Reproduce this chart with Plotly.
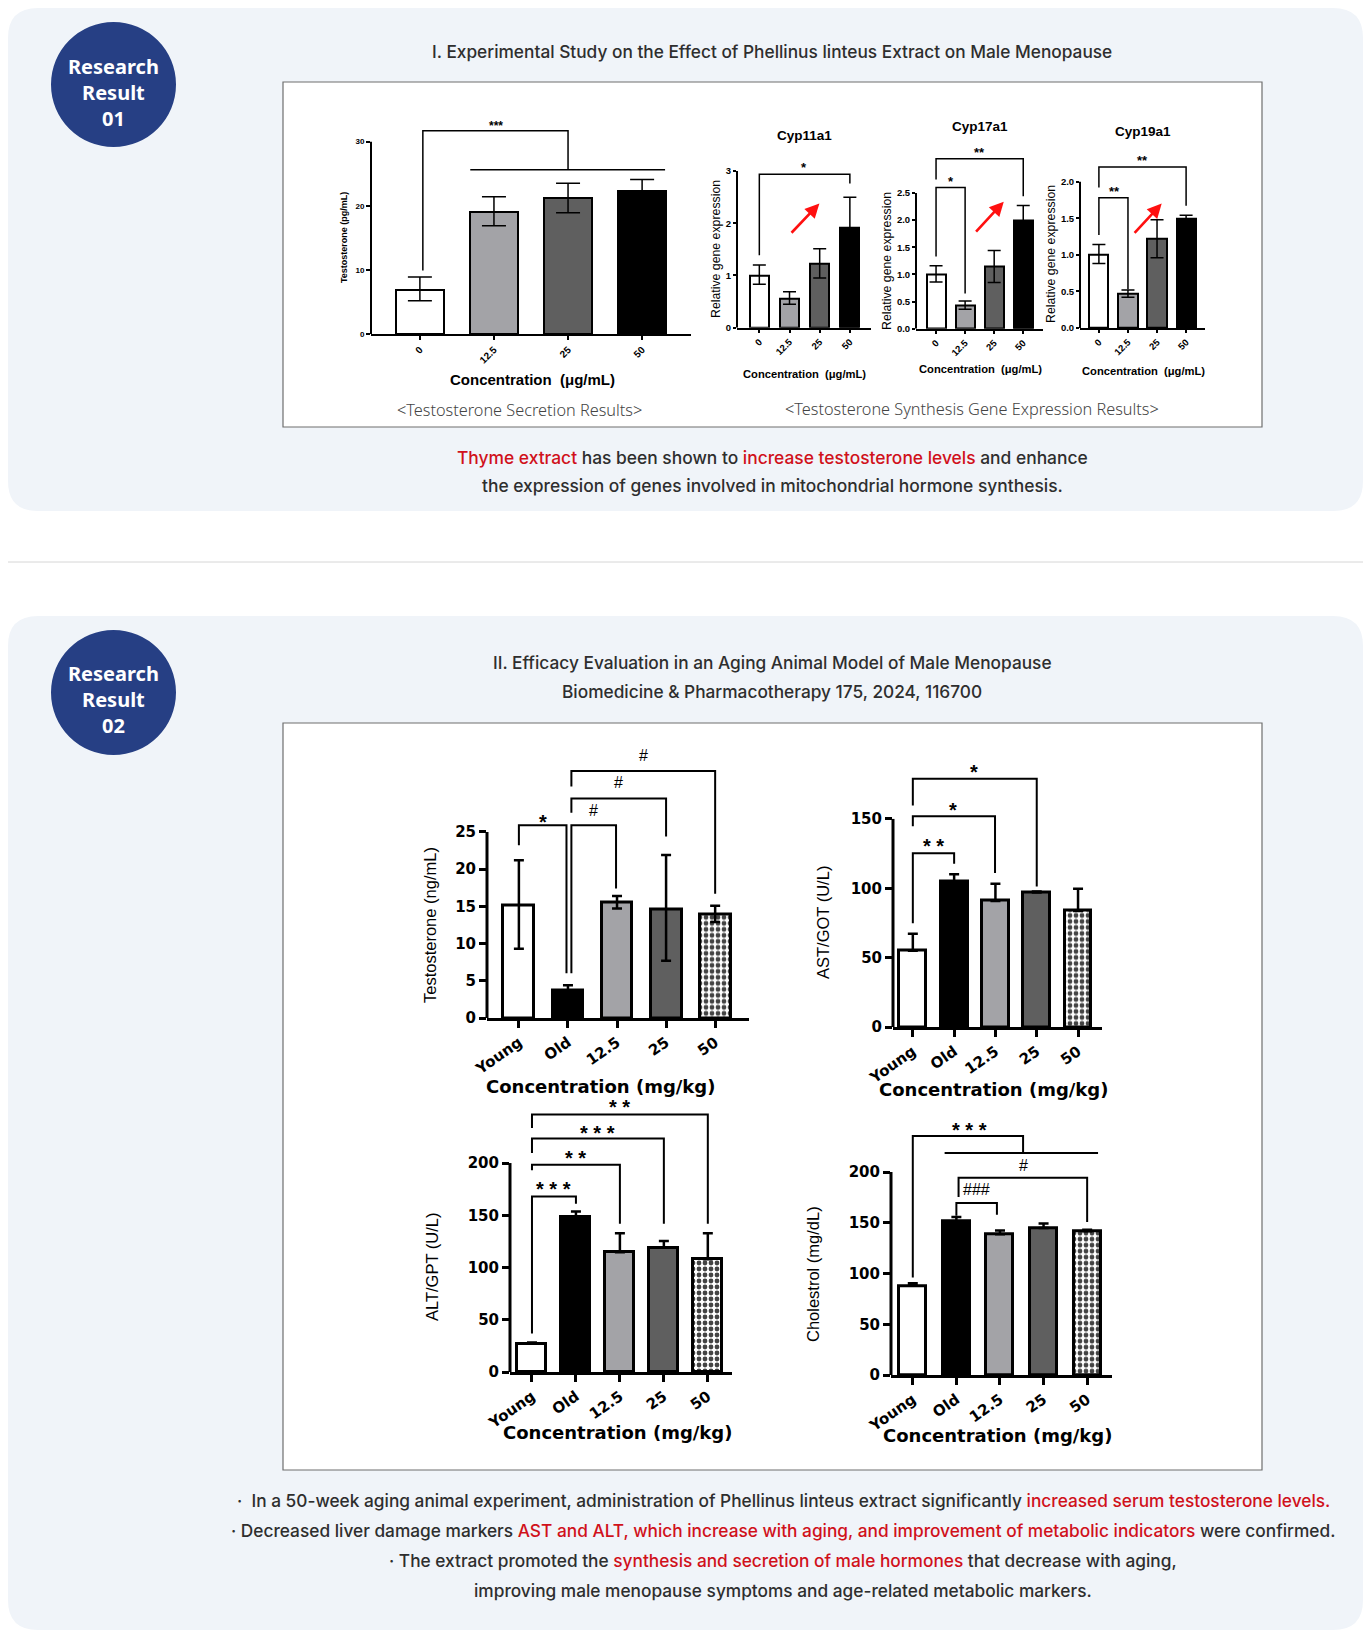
import plotly.graph_objects as go

# reference canvas 1371x1643; the html body adds an 8px margin, so the figure is
# drawn 16px smaller and all reference coordinates are offset by 8px.
W, H = 1371, 1643
OFF = 8
FW, FH = W - 2 * OFF, H - 2 * OFF

# ---------------- data ----------------
sec_cats = ["0", "12.5", "25", "50"]
sec_vals = [6.9, 19.0, 21.2, 22.3]
sec_err_up = [2.0, 2.4, 2.3, 1.8]
sec_err_dn = [1.7, 2.1, 2.3, 1.8]

gene_cats = ["0", "12.5", "25", "50"]
cyp11_vals = [1.0, 0.56, 1.23, 1.91]
cyp11_up = [0.20, 0.13, 0.28, 0.59]
cyp11_dn = [0.17, 0.11, 0.28, 0.59]
cyp17_vals = [1.0, 0.43, 1.15, 2.0]
cyp17_up = [0.16, 0.08, 0.29, 0.27]
cyp17_dn = [0.14, 0.07, 0.30, 0.27]
cyp19_vals = [1.0, 0.47, 1.22, 1.5]
cyp19_up = [0.14, 0.05, 0.26, 0.04]
cyp19_dn = [0.12, 0.05, 0.26, 0.04]

groups = ["Young", "Old", "12.5", "25", "50"]
testo_vals = [15.1, 3.7, 15.5, 14.65, 13.9]
testo_up = [6.1, 0.7, 0.9, 7.25, 1.2]
testo_dn = [5.8, 0.7, 0.8, 6.95, 1.0]
ast_vals = [55.0, 104.9, 90.9, 96.9, 83.7]
ast_up = [12.3, 5.3, 12.3, 0.8, 15.9]
alt_vals = [27.2, 148.2, 114.6, 119.0, 107.8]
alt_up = [1.0, 5.4, 18.2, 6.4, 25.0]
chol_vals = [87.9, 151.5, 138.7, 144.9, 141.6]
chol_up = [2.6, 4.2, 3.6, 4.3, 1.4]

# ---------------- helpers ----------------
def PX(x):
    return (x - OFF) / FW

def PY(y):
    return 1 - (y - OFF) / FH

fig = go.Figure()
shapes = []
annots = []
layout_axes = {}

RED = "#d0111b"
TXT = "#2e2e2e"
PANEL = "#f0f4f9"
NAVY = "#263f84"

def rrect(x0, y0, x1, y1, r, fill):
    pts = lambda x, y: f"{PX(x):.5f},{PY(y):.5f}"
    p = (f"M {pts(x0+r,y0)} L {pts(x1-r,y0)} Q {pts(x1,y0)} {pts(x1,y0+r)} "
         f"L {pts(x1,y1-r)} Q {pts(x1,y1)} {pts(x1-r,y1)} L {pts(x0+r,y1)} "
         f"Q {pts(x0,y1)} {pts(x0,y1-r)} L {pts(x0,y0+r)} Q {pts(x0,y0)} {pts(x0+r,y0)} Z")
    shapes.append(dict(type="path", path=p, xref="paper", yref="paper",
                       fillcolor=fill, line=dict(width=0), layer="below"))

def text(x, y, s, size, color=TXT, family="Inter", weight=400, angle=0, xanchor="center"):
    annots.append(dict(x=PX(x), y=PY(y), xref="paper", yref="paper", text=s,
                       showarrow=False, xanchor=xanchor, yanchor="middle", textangle=angle,
                       font=dict(size=size, color=color, family=family, weight=weight)))

def chart(n, cats, vals, up, dn, colors, px0, px1, py_top, py_bot, xrange, yrange,
          ytickvals, ymax_line, bw, lw, tickfont, ticklen, tickwidth, capw, errthick,
          pattern=None, ytickfont=None, tickangle=-45):
    xr = "x" if n == 1 else f"x{n}"
    yr = "y" if n == 1 else f"y{n}"
    xa = "xaxis" if n == 1 else f"xaxis{n}"
    ya = "yaxis" if n == 1 else f"yaxis{n}"
    idx = list(range(len(cats)))
    marker = dict(color=colors, line=dict(color="black", width=lw))
    if pattern is not None:
        marker["pattern"] = dict(shape=pattern, fgcolor="white", bgcolor="black",
                                 fgopacity=1, size=6, solidity=0.5)
    fig.add_trace(go.Bar(x=idx, y=vals, width=bw, xaxis=xr, yaxis=yr, marker=marker,
                         showlegend=False, hoverinfo="skip",
                         error_y=dict(type="data", symmetric=False, array=up, arrayminus=dn,
                                      color="black", thickness=errthick, width=capw)))
    layout_axes[xa] = dict(domain=[PX(px0), PX(px1)], range=xrange, anchor=yr,
                           showline=True, linecolor="black", linewidth=lw,
                           ticks="outside", tickvals=idx, ticktext=cats, tickangle=tickangle,
                           ticklen=ticklen, tickwidth=tickwidth, tickcolor="black",
                           tickfont=tickfont, showgrid=False, zeroline=False, fixedrange=True,
                           automargin=False)
    layout_axes[ya] = dict(domain=[PY(py_bot), PY(py_top)], range=yrange, anchor=xr,
                           showline=False, ticks="outside", tickvals=ytickvals,
                           ticklen=ticklen, tickwidth=tickwidth, tickcolor="black",
                           tickfont=ytickfont or tickfont, showgrid=False, zeroline=False,
                           fixedrange=True, automargin=False)
    shapes.append(dict(type="line", xref=f"{xr} domain", yref=yr, x0=0, x1=0, y0=0,
                       y1=ymax_line, line=dict(color="black", width=lw)))
    return xr, yr

def bracket(xr, yr, xl, yl, xrt, yrt, yt, lw):
    shapes.append(dict(type="path", xref=xr, yref=yr,
                       path=f"M {xl},{yl} L {xl},{yt} L {xrt},{yt} L {xrt},{yrt}",
                       line=dict(color="black", width=lw)))

def hline(xr, yr, xa, xb, y, lw):
    shapes.append(dict(type="line", xref=xr, yref=yr, x0=xa, x1=xb, y0=y, y1=y,
                       line=dict(color="black", width=lw)))

def label(xr, yr, x, y, s, size, family="Liberation Sans", weight=700, yshift=0):
    annots.append(dict(x=x, y=y, xref=xr, yref=yr, text=s, showarrow=False,
                       xanchor="center", yanchor="middle", yshift=yshift,
                       font=dict(size=size, family=family, color="black", weight=weight)))

def red_arrow(xr, yr, x0, y0, x1, y1):
    annots.append(dict(x=x1, y=y1, ax=x0, ay=y0, xref=xr, yref=yr, axref=xr, ayref=yr,
                       text="", showarrow=True, arrowhead=2, arrowsize=1.1, arrowwidth=2.6,
                       arrowcolor="#ff1010"))

# ---------------- backgrounds ----------------
rrect(8, 8, 1363, 511, 30, PANEL)
rrect(8, 616, 1363, 1630, 30, PANEL)
shapes.append(dict(type="line", xref="paper", yref="paper", x0=PX(8), x1=PX(1363),
                   y0=PY(562), y1=PY(562), line=dict(color="#d6d6d6", width=1), layer="below"))
for (x0, y0, x1, y1) in [(283, 82, 1262, 427), (283, 723, 1262, 1470)]:
    shapes.append(dict(type="rect", xref="paper", yref="paper", x0=PX(x0), x1=PX(x1),
                       y0=PY(y1), y1=PY(y0), fillcolor="white",
                       line=dict(color="#6e6e6e", width=1.2), layer="below"))
for (cx, cy) in [(113.5, 84.5), (113.5, 692.5)]:
    r = 62.5
    shapes.append(dict(type="circle", xref="paper", yref="paper", x0=PX(cx - r), x1=PX(cx + r),
                       y0=PY(cy + r), y1=PY(cy - r), fillcolor=NAVY, line=dict(width=0),
                       layer="below"))

text(113.5, 92, "Research<br>Result<br>01", 20, "white", "Noto Sans", 700)
text(113.5, 699, "Research<br>Result<br>02", 20, "white", "Noto Sans", 700)

text(772, 52, "I. Experimental Study on the Effect of Phellinus linteus Extract on Male Menopause",
     17.3, TXT, "Inter", 500)
text(772, 457, f"<span style='color:{RED}'>Thyme extract</span> has been shown to "
     f"<span style='color:{RED}'>increase testosterone levels</span> and enhance", 17.4, TXT, "Inter", 500)
text(772, 486, "the expression of genes involved in mitochondrial hormone synthesis.", 17.4, TXT, "Inter", 500)

text(772, 662, "II. Efficacy Evaluation in an Aging Animal Model of Male Menopause", 17.3, TXT, "Inter", 500)
text(772, 691, "Biomedicine &amp; Pharmacotherapy 175, 2024, 116700", 17.3, TXT, "Inter", 500)

text(783, 1500, "·  In a 50-week aging animal experiment, administration of Phellinus linteus extract "
     f"significantly <span style='color:{RED}'>increased serum testosterone levels.</span>", 17.3, TXT, "Inter", 500)
text(783, 1530, f"· Decreased liver damage markers <span style='color:{RED}'>AST and ALT, which increase "
     f"with aging, and improvement of metabolic indicators</span> were confirmed.", 17.3, TXT, "Inter", 500)
text(783, 1560, f"· The extract promoted the <span style='color:{RED}'>synthesis and secretion of male "
     f"hormones</span> that decrease with aging,", 17.3, TXT, "Inter", 500)
text(783, 1590, "improving male menopause symptoms and age-related metabolic markers.", 17.3, TXT, "Inter", 500)

text(519, 410, "&lt;Testosterone Secretion Results&gt;", 16.3, "#444444", "Noto Sans", 300)
text(972, 409, "&lt;Testosterone Synthesis Gene Expression Results&gt;", 16.3, "#444444", "Noto Sans", 300)

# ---------------- top charts ----------------
top_colors = ["white", "#a3a3a7", "#5f5f5f", "black"]
ARIAL = "Liberation Sans"

xr, yr = chart(1, sec_cats, sec_vals, sec_err_up, sec_err_dn, top_colors,
               371, 691, 116, 334, [-0.66, 3.66], [0, 34], [0, 10, 20, 30], 30,
               0.64, 2, dict(size=10, family=ARIAL, weight=700, color="black"), 4, 1.5, 12, 1.5,
               ytickfont=dict(size=8, family=ARIAL, weight=700, color="black"))
bracket(xr, yr, 0.04, 9.9, 2.0, 25.6, 31.7, 1.5)
hline(xr, yr, 0.68, 3.31, 25.6, 1.5)
label(xr, yr, 1.03, 32.9, "***", 12, yshift=-3)
text(344, 238, "Testosterone (pg/mL)", 9, "black", ARIAL, 700, -90)
text(532, 379, "Concentration  (μg/mL)", 15, "black", ARIAL, 700)

cyp_tick = dict(size=9.5, family=ARIAL, weight=700, color="black")
xr, yr = chart(2, gene_cats, cyp11_vals, cyp11_up, cyp11_dn, top_colors,
               737, 871, 152.8, 327.7, [-0.74, 3.7], [0, 3.35], [0, 1, 2, 3], 3,
               0.63, 2, cyp_tick, 3, 1.5, 6.5, 1.5)
bracket(xr, yr, 0, 1.39, 3.0, 2.76, 2.94, 1.5)
label(xr, yr, 1.48, 3.12, "*", 13, yshift=-3)
red_arrow(xr, yr, 1.02, 1.79, 1.99, 2.38)
text(804, 135, "Cyp11a1", 13.5, "black", ARIAL, 700)
text(716, 249, "Relative gene expression", 12.3, "black", ARIAL, 400, -90)
text(804, 374, "Concentration  (μg/mL)", 11.2, "black", ARIAL, 700)

xr, yr = chart(3, gene_cats, cyp17_vals, cyp17_up, cyp17_dn, top_colors,
               916, 1043, 141.4, 328.7, [-0.69, 3.68], [0, 3.45], [0, 0.5, 1.0, 1.5, 2.0, 2.5], 2.5,
               0.65, 2, cyp_tick, 3, 1.5, 6.5, 1.5)
layout_axes["yaxis3"]["ticktext"] = ["0.0", "0.5", "1.0", "1.5", "2.0", "2.5"]
bracket(xr, yr, 0, 1.33, 1.0, 0.65, 2.6, 1.5)
bracket(xr, yr, 0, 2.75, 3.0, 2.44, 3.13, 1.5)
label(xr, yr, 0.52, 2.77, "*", 13, yshift=-3)
label(xr, yr, 1.51, 3.30, "**", 13, yshift=-3)
red_arrow(xr, yr, 1.33, 1.76, 2.33, 2.34)
text(980, 126, "Cyp17a1", 13.5, "black", ARIAL, 700)
text(887, 261, "Relative gene expression", 12.3, "black", ARIAL, 400, -90)
text(980, 369, "Concentration  (μg/mL)", 11.2, "black", ARIAL, 700)

xr, yr = chart(4, gene_cats, cyp19_vals, cyp19_up, cyp19_dn, top_colors,
               1080, 1205, 148.7, 328, [-0.65, 3.65], [0, 2.45], [0, 0.5, 1.0, 1.5, 2.0], 2.0,
               0.66, 2, cyp_tick, 3, 1.5, 6.5, 1.5)
layout_axes["yaxis4"]["ticktext"] = ["0.0", "0.5", "1.0", "1.5", "2.0"]
bracket(xr, yr, 0, 1.27, 1.0, 0.53, 1.78, 1.5)
bracket(xr, yr, 0, 1.92, 3.0, 1.67, 2.2, 1.5)
label(xr, yr, 0.53, 1.91, "**", 13, yshift=-3)
label(xr, yr, 1.5, 2.33, "**", 13, yshift=-3)
red_arrow(xr, yr, 1.18, 1.28, 2.16, 1.70)
text(1143, 131, "Cyp19a1", 13.5, "black", ARIAL, 700)
text(1051, 254, "Relative gene expression", 12.3, "black", ARIAL, 400, -90)
text(1143, 371, "Concentration  (μg/mL)", 11.2, "black", ARIAL, 700)

# ---------------- bottom charts ----------------
bot_colors = ["white", "black", "#a3a3a7", "#5f5f5f", "white"]
bot_pattern = ["", "", "", "", "."]
WIDE = "DejaVu Sans"
NARROW = "Liberation Sans Narrow, Liberation Sans"
bt = dict(size=15, family=WIDE, weight=700, color="black")
zeros = [0, 0, 0, 0, 0]

xr, yr = chart(5, groups, testo_vals, testo_up, testo_dn, bot_colors,
               487, 749, 746.4, 1018, [-0.65, 4.69], [0, 36.5], [0, 5, 10, 15, 20, 25], 25,
               0.63, 3, bt, 7, 3, 5, 2.5, pattern=bot_pattern, tickangle=-35)
bracket(xr, yr, 0, 23.2, 0.97, 6.0, 25.9, 2)
bracket(xr, yr, 1.07, 6.0, 1.98, 17.4, 25.9, 2)
bracket(xr, yr, 1.07, 27.6, 3.0, 24.4, 29.5, 2)
bracket(xr, yr, 1.07, 31.1, 4.0, 16.7, 33.2, 2)
label(xr, yr, 0.5, 27.0, "*", 20, yshift=-5)
label(xr, yr, 1.52, 27.9, "#", 16, weight=400)
label(xr, yr, 2.03, 31.6, "#", 16, weight=400)
label(xr, yr, 2.54, 35.3, "#", 16, weight=400)
text(430, 925, "Testosterone (ng/mL)", 16.5, "black", NARROW, 400, -90)
text(600, 1086, "Concentration (mg/kg)", 18, "black", WIDE, 700)

xr, yr = chart(6, groups, ast_vals, ast_up, zeros, bot_colors,
               893, 1102, 756.5, 1027, [-0.48, 4.58], [0, 195], [0, 50, 100, 150], 150,
               0.65, 3, bt, 7, 3, 5, 2.5, pattern=bot_pattern, tickangle=-35)
bracket(xr, yr, 0, 74.8, 1.0, 117.7, 125.2, 2)
bracket(xr, yr, 0, 144.7, 1.99, 111.0, 152.0, 2)
bracket(xr, yr, 0, 159.6, 3.0, 101.3, 178.9, 2)
label(xr, yr, 0.5, 133.8, "* *", 20, yshift=-5)
label(xr, yr, 0.97, 160.4, "*", 20, yshift=-5)
label(xr, yr, 1.49, 187.4, "*", 20, yshift=-5)
text(823, 922, "AST/GOT (U/L)", 16.5, "black", NARROW, 400, -90)
text(993, 1089, "Concentration (mg/kg)", 18, "black", WIDE, 700)

xr, yr = chart(7, groups, alt_vals, alt_up, zeros, bot_colors,
               510, 732, 1092, 1372, [-0.5, 4.55], [0, 268], [0, 50, 100, 150, 200], 200,
               0.66, 3, bt, 7, 3, 5, 2.5, pattern=bot_pattern, tickangle=-35)
bracket(xr, yr, 0, 36.8, 1.0, 161.0, 168.0, 2)
bracket(xr, yr, 0, 193.0, 2.0, 141.8, 198.4, 2)
bracket(xr, yr, 0, 209.6, 3.0, 141.8, 223.4, 2)
bracket(xr, yr, 0, 233.6, 4.0, 141.8, 246.4, 2)
label(xr, yr, 0.49, 180.0, "* * *", 20, yshift=-5)
label(xr, yr, 1.0, 209.6, "* *", 20, yshift=-5)
label(xr, yr, 1.5, 234.0, "* * *", 20, yshift=-5)
label(xr, yr, 2.0, 258.6, "* *", 20, yshift=-5)
text(432, 1267, "ALT/GPT (U/L)", 16.5, "black", NARROW, 400, -90)
text(617, 1432, "Concentration (mg/kg)", 18, "black", WIDE, 700)

xr, yr = chart(8, groups, chol_vals, chol_up, zeros, bot_colors,
               891, 1112, 1116.2, 1375, [-0.5, 4.57], [0, 255], [0, 50, 100, 150, 200], 200,
               0.62, 3, bt, 7, 3, 5, 2.5, pattern=bot_pattern, tickangle=-35)
bracket(xr, yr, 0, 96.0, 2.53, 218.7, 235.4, 2)
hline(xr, yr, 0.73, 4.25, 218.7, 2)
bracket(xr, yr, 1.05, 175.4, 4.0, 150.8, 194.4, 2)
bracket(xr, yr, 1.0, 157.0, 1.93, 158.0, 169.5, 2)
label(xr, yr, 1.29, 245.9, "* * *", 20, yshift=-5)
label(xr, yr, 2.53, 206.6, "#", 16, weight=400)
label(xr, yr, 1.47, 182.6, "###", 16, weight=400)
text(813, 1274, "Cholestrol (mg/dL)", 16.5, "black", NARROW, 400, -90)
text(997, 1435, "Concentration (mg/kg)", 18, "black", WIDE, 700)

fig.update_layout(width=FW, height=FH, margin=dict(l=0, r=0, t=0, b=0),
                  paper_bgcolor="white", plot_bgcolor="rgba(0,0,0,0)",
                  shapes=shapes, annotations=annots, bargap=0, showlegend=False,
                  **layout_axes)
fig.write_html("out.html")
